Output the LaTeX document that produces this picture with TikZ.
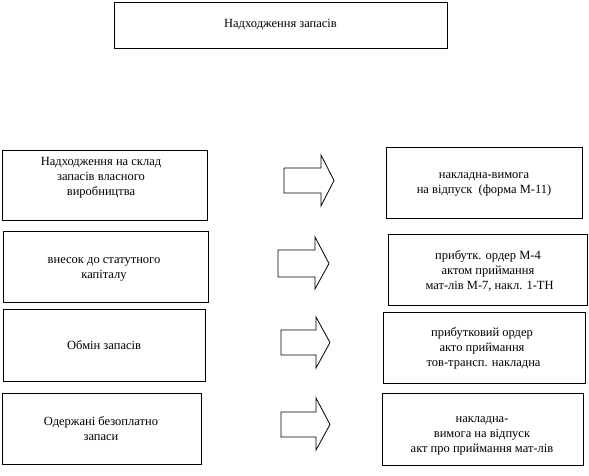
\documentclass[tikz,border=0pt]{standalone}
\usepackage{fontspec}
\setmainfont{Liberation Serif}
\begin{document}
\begin{tikzpicture}[x=1pt,y=-1pt,
  box/.style={draw=black,line width=0.8pt,rectangle,inner sep=0pt},
  txt/.style={align=center,font=\fontsize{12.5}{15}\selectfont,inner sep=0pt},
  blockarrow/.style={draw=black,line width=0.8pt,fill=white,line join=miter}]
\useasboundingbox (0,0) rectangle (589,476);
% title
\node[box,minimum width=333pt,minimum height=46pt] (top) at (280.5,25) {};
\node[txt] (toptxt) at (top.center) {Надходження запасів};
% left boxes
\node[box,minimum width=205pt,minimum height=70pt] (l1) at (104.5,185) {};
\node[txt] (l1t) at (101,178) {Надходження на склад\\запасів власного\\виробництва};
\node[box,minimum width=205pt,minimum height=71pt] (l2) at (105.5,266.5) {};
\node[txt] (l2t) at (104,269.5) {внесок до статутного\\капіталу};
\node[box,minimum width=202pt,minimum height=72pt] (l3) at (104,345) {};
\node[txt] (l3t) at (l3.center) {Обмін запасів};
\node[box,minimum width=199pt,minimum height=71pt] (l4) at (101.5,428.5) {};
\node[txt] (l4t) at (101,428.5) {Одержані безоплатно\\запаси};
% right boxes
\node[box,minimum width=196pt,minimum height=71pt] (r1) at (484,182.5) {};
\node[txt] (r1t) at (484,184) {накладна-вимога\\на відпуск\ \ (форма М-11)};
\node[box,minimum width=199pt,minimum height=71pt] (r2) at (487.5,269.5) {};
\node[txt] (r2t) at (488,271) {прибутк. ордер М-4\\актом приймання\\\ мат-лів М-7, накл. 1-ТН};
\node[box,minimum width=202pt,minimum height=71pt] (r3) at (484,347.5) {};
\node[txt] (r3t) at (482,348) {прибутковий ордер\\акто приймання\\\ тов-трансп. накладна};
\node[box,minimum width=201pt,minimum height=72pt] (r4) at (482.5,429) {};
\node[txt] (r4t) at (482,435.5) {накладна-\\вимога на відпуск\\акт про приймання мат-лів};
% block arrows
\draw[blockarrow] (284,168) -- (321,168) -- (321,155) -- (334,180.5) -- (321,206) -- (321,193) -- (284,193) -- cycle;
\draw[blockarrow] (278,250) -- (315,250) -- (315,237) -- (329,263.5) -- (315,289) -- (315,277) -- (278,277) -- cycle;
\draw[blockarrow] (281,330) -- (316,330) -- (316,317) -- (330,342.5) -- (316,368) -- (316,355) -- (281,355) -- cycle;
\draw[blockarrow] (281,412) -- (316,412) -- (316,398) -- (330,424.5) -- (316,450) -- (316,437) -- (281,437) -- cycle;
\end{tikzpicture}
\end{document}
